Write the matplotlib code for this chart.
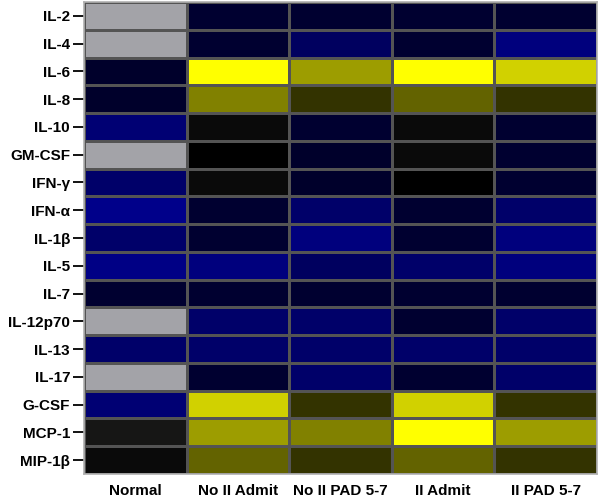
import numpy as np
import matplotlib
matplotlib.use("Agg")
import matplotlib.pyplot as plt
from matplotlib.colors import LinearSegmentedColormap

rows = ["IL-2", "IL-4", "IL-6", "IL-8", "IL-10", "GM-CSF", "IFN-γ", "IFN-α",
        "IL-1β", "IL-5", "IL-7", "IL-12p70", "IL-13", "IL-17", "G-CSF",
        "MCP-1", "MIP-1β"]
cols = ["Normal", "No II Admit", "No II PAD 5-7", "II Admit", "II PAD 5-7"]

nan = np.nan
normal      = [nan, nan, -0.33, -0.33, -0.80, nan, -0.73, -0.95, -0.73, -0.92, -0.36, nan, -0.73, nan, -0.80, 0.0, -0.03]
no_ii_admit = [-0.36, -0.36, 1.0, 0.5, -0.03, -0.05, -0.03, -0.36, -0.36, -0.86, -0.36, -0.73, -0.73, -0.36, 0.82, 0.61, 0.39]
no_ii_pad   = [-0.36, -0.67, 0.61, 0.2, -0.36, -0.33, -0.33, -0.73, -0.86, -0.67, -0.36, -0.73, -0.73, -0.73, 0.2, 0.5, 0.2]
ii_admit    = [-0.36, -0.36, 1.0, 0.39, -0.03, -0.03, -0.05, -0.36, -0.36, -0.73, -0.36, -0.36, -0.73, -0.36, 0.82, 1.0, 0.39]
ii_pad      = [-0.36, -0.86, 0.82, 0.2, -0.36, -0.36, -0.36, -0.73, -0.86, -0.86, -0.36, -0.73, -0.73, -0.73, 0.2, 0.61, 0.2]

data = np.array([normal, no_ii_admit, no_ii_pad, ii_admit, ii_pad]).T
masked = np.ma.masked_invalid(data)

cmap = LinearSegmentedColormap.from_list("byk", [
    (0.0, (0, 0, 0.57)),
    (0.475, (0, 0, 0)),
    (0.5, (0.09, 0.09, 0.09)),
    (0.525, (0.05, 0.05, 0.0)),
    (1.0, (1, 1, 0)),
])
cmap.set_bad("#a3a3a8")

fig = plt.figure(figsize=(6, 5.04), dpi=100)
ax = fig.add_axes([0.14, 0.0595, 0.855, 0.9365])
ax.pcolormesh(np.arange(len(cols) + 1), np.arange(len(rows) + 1), masked,
              cmap=cmap, vmin=-1, vmax=1, edgecolor="#545454", linewidth=0.75)
ax.set_xlim(0, len(cols))
ax.set_ylim(len(rows), 0)
ax.set_yticks(np.arange(len(rows)) + 0.5)
ax.set_yticklabels(rows, fontfamily=["Liberation Sans", "DejaVu Sans"],
                   fontweight="bold", fontsize=11)
ax.set_xticks(np.arange(len(cols)) + 0.5)
ax.set_xticklabels(cols, fontfamily="Liberation Sans", fontweight="bold", fontsize=11)
ax.tick_params(axis="y", length=8, width=1.3, color="black", pad=2)
ax.tick_params(axis="x", length=0, pad=7)
for s in ax.spines.values():
    s.set_color("#b0b0b0")
    s.set_linewidth(1.2)

fig.savefig("out.png", dpi=100)
